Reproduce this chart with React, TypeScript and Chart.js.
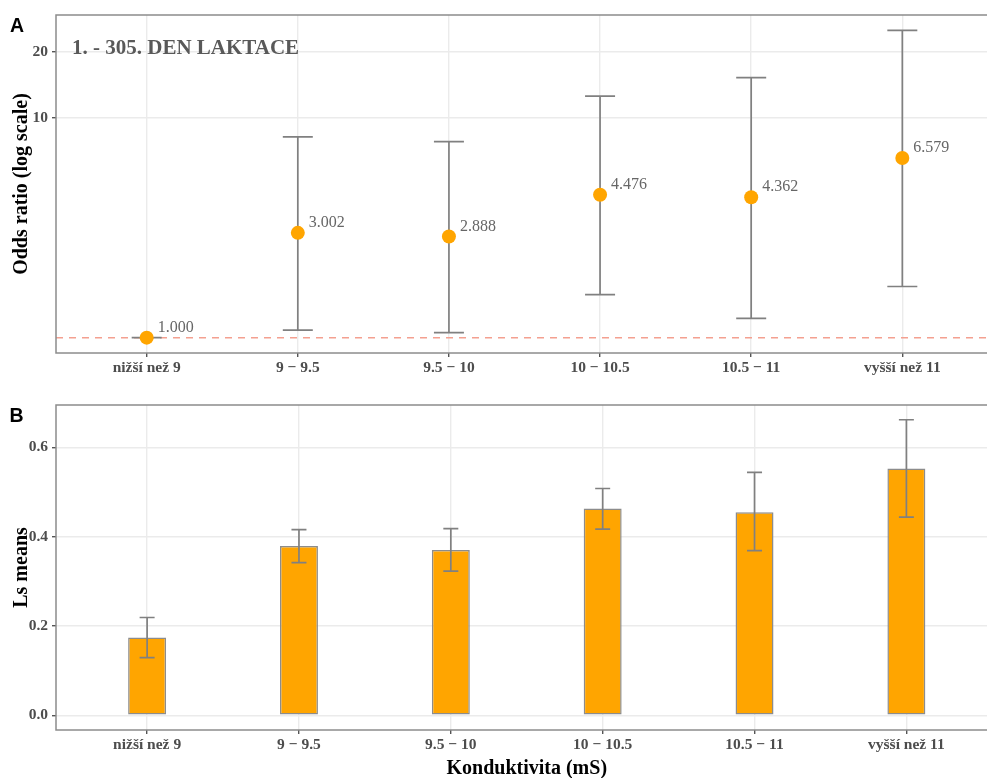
import React, { useEffect, useRef } from 'react';
import { Chart, registerables } from 'chart.js';

Chart.register(...registerables);

// ---------- data ----------
const CATEGORIES = ['nižší než 9', '9 − 9.5', '9.5 − 10', '10 − 10.5', '10.5 − 11', 'vyšší než 11'];

const ODDS_RATIO = [1.0, 3.002, 2.888, 4.476, 4.362, 6.579];
const ODDS_LOWER = [1.0, 1.083, 1.053, 1.57, 1.225, 1.71];
const ODDS_UPPER = [1.0, 8.22, 7.82, 12.6, 15.3, 25.1];
const ODDS_TICKS = [10, 20];
const ODDS_REFERENCE = 1;

const LS_MEANS = [0.174, 0.379, 0.37, 0.463, 0.455, 0.553];
const LS_LOWER = [0.129, 0.342, 0.323, 0.417, 0.369, 0.444];
const LS_UPPER = [0.219, 0.416, 0.418, 0.508, 0.544, 0.662];
const LS_TICKS = [0, 0.2, 0.4, 0.6];

const PANEL_A_NOTE = '1. - 305. DEN LAKTACE';
const Y_TITLE_A = 'Odds ratio (log scale)';
const Y_TITLE_B = 'Ls means';
const X_TITLE = 'Konduktivita (mS)';

// ---------- derived ranges (ggplot-like expansion) ----------
const X_MIN = -0.6;
const X_MAX = CATEGORIES.length - 1 + 0.6;

const logLo = Math.log10(Math.min(...ODDS_LOWER));
const logHi = Math.log10(Math.max(...ODDS_UPPER));
const logPad = (logHi - logLo) * 0.05;
const A_MIN = Math.pow(10, logLo - logPad);
const A_MAX = Math.pow(10, logHi + logPad);

const bLo = 0;
const bHi = Math.max(...LS_UPPER);
const bPad = (bHi - bLo) * 0.05;
const B_MIN = bLo - bPad;
const B_MAX = bHi + bPad;

// ---------- styles ----------
const SERIF = "'Liberation Serif', 'Times New Roman', serif";
const ORANGE = '#FFA500';
const GRID = '#ebebeb';
const TICK_TEXT = '#4d4d4d';
const ERR = '#808080';
const PANEL_BORDER = '#8c8c8c';

function xScale(height: number, withTitle: boolean) {
  return {
    type: 'linear',
    min: X_MIN,
    max: X_MAX,
    offset: false,
    afterBuildTicks: (s: any) => {
      s.ticks = CATEGORIES.map((_, i) => ({ value: i }));
    },
    afterFit: (s: any) => {
      s.height = height;
    },
    ticks: {
      autoSkip: false,
      maxRotation: 0,
      minRotation: 0,
      padding: 2,
      color: TICK_TEXT,
      font: { family: SERIF, size: 15.5, weight: 'bold' },
      callback: (v: any) => CATEGORIES[Math.round(Number(v))] ?? '',
    },
    grid: { offset: false, color: GRID, lineWidth: 1.4, tickColor: '#555', tickLength: 4, drawTicks: true },
    border: { display: false },
    title: withTitle
      ? {
          display: true,
          text: X_TITLE,
          color: '#000',
          font: { family: SERIF, size: 20, weight: 'bold' },
          padding: { top: 0, bottom: 4 },
        }
      : { display: false },
  };
}

function yCommon(title: string) {
  return {
    afterFit: (s: any) => {
      s.width = 56;
    },
    grid: { color: GRID, lineWidth: 1.4, tickColor: '#555', tickLength: 4, drawTicks: true },
    border: { display: false },
    title: {
      display: true,
      text: title,
      color: '#000',
      font: { family: SERIF, size: 20, weight: 'bold' },
      padding: { top: 10, bottom: 0 },
    },
  };
}

function drawErrorBars(chart: any, lower: number[], upper: number[], halfCap: number) {
  const { ctx } = chart;
  const xs = chart.scales.x;
  const ys = chart.scales.y;
  ctx.save();
  ctx.strokeStyle = ERR;
  ctx.lineWidth = 1.7;
  lower.forEach((lo, i) => {
    const px = xs.getPixelForValue(i);
    const yLo = ys.getPixelForValue(lo);
    const yHi = ys.getPixelForValue(upper[i]);
    ctx.beginPath();
    ctx.moveTo(px, yLo);
    ctx.lineTo(px, yHi);
    ctx.moveTo(px - halfCap, yLo);
    ctx.lineTo(px + halfCap, yLo);
    ctx.moveTo(px - halfCap, yHi);
    ctx.lineTo(px + halfCap, yHi);
    ctx.stroke();
  });
  ctx.restore();
}

function drawBorder(chart: any) {
  const { ctx, chartArea } = chart;
  ctx.save();
  ctx.strokeStyle = PANEL_BORDER;
  ctx.lineWidth = 1.5;
  ctx.strokeRect(chartArea.left, chartArea.top, chartArea.right - chartArea.left, chartArea.bottom - chartArea.top);
  ctx.restore();
}

export default function App() {
  const refA = useRef<HTMLCanvasElement>(null);
  const refB = useRef<HTMLCanvasElement>(null);

  useEffect(() => {
    const plugA = {
      id: 'panelA',
      beforeDatasetsDraw(chart: any) {
        const { ctx, chartArea } = chart;
        const ys = chart.scales.y;
        const yRef = ys.getPixelForValue(ODDS_REFERENCE);
        ctx.save();
        ctx.strokeStyle = '#f4a090';
        ctx.lineWidth = 1.5;
        ctx.setLineDash([7, 6]);
        ctx.beginPath();
        ctx.moveTo(chartArea.left, yRef);
        ctx.lineTo(chartArea.right, yRef);
        ctx.stroke();
        ctx.restore();
        drawErrorBars(chart, ODDS_LOWER, ODDS_UPPER, 15);
      },
      afterDatasetsDraw(chart: any) {
        const { ctx, chartArea } = chart;
        const xs = chart.scales.x;
        const ys = chart.scales.y;
        ctx.save();
        ctx.fillStyle = '#666';
        ctx.font = `16px ${SERIF}`;
        ctx.textAlign = 'left';
        ctx.textBaseline = 'middle';
        ODDS_RATIO.forEach((v, i) => {
          ctx.fillText(v.toFixed(3), xs.getPixelForValue(i) + 11, ys.getPixelForValue(v) - 10);
        });
        ctx.fillStyle = '#595959';
        ctx.font = `bold 21px ${SERIF}`;
        ctx.fillText(PANEL_A_NOTE, chartArea.left + 16, chartArea.top + 34);
        ctx.restore();
      },
      afterDraw(chart: any) {
        drawBorder(chart);
      },
    };

    const plugB = {
      id: 'panelB',
      afterDatasetsDraw(chart: any) {
        drawErrorBars(chart, LS_LOWER, LS_UPPER, 7.5);
      },
      afterDraw(chart: any) {
        drawBorder(chart);
      },
    };

    const chartA = new Chart(refA.current as HTMLCanvasElement, {
      type: 'scatter',
      data: {
        datasets: [
          {
            data: ODDS_RATIO.map((v, i) => ({ x: i, y: v })),
            pointRadius: 7,
            pointHoverRadius: 7,
            pointBackgroundColor: ORANGE,
            pointBorderWidth: 0,
          },
        ],
      },
      options: {
        responsive: false,
        animation: false,
        events: [],
        layout: { padding: { top: 15, right: 2.5, bottom: 0, left: 0 } },
        plugins: { legend: { display: false }, tooltip: { enabled: false } },
        scales: {
          x: xScale(32, false) as any,
          y: {
            type: 'logarithmic',
            min: A_MIN,
            max: A_MAX,
            afterBuildTicks: (s: any) => {
              s.ticks = ODDS_TICKS.map((v) => ({ value: v }));
            },
            ticks: {
              padding: 4,
              color: TICK_TEXT,
              font: { family: SERIF, size: 15.5, weight: 'bold' },
              callback: (v: any) => String(v),
            },
            ...yCommon(Y_TITLE_A),
          } as any,
        },
      },
      plugins: [plugA],
    } as any);

    const chartB = new Chart(refB.current as HTMLCanvasElement, {
      type: 'bar',
      data: {
        datasets: [
          {
            data: LS_MEANS.map((v, i) => ({ x: i, y: v })),
            backgroundColor: ORANGE,
            borderColor: '#8c8c8c',
            borderWidth: 1.5,
            borderSkipped: false,
            barPercentage: 0.25,
            categoryPercentage: 1,
          },
        ],
      },
      options: {
        responsive: false,
        animation: false,
        events: [],
        layout: { padding: { top: 20, right: 2.5, bottom: 0, left: 0 } },
        plugins: { legend: { display: false }, tooltip: { enabled: false } },
        scales: {
          x: xScale(55, true) as any,
          y: {
            type: 'linear',
            min: B_MIN,
            max: B_MAX,
            afterBuildTicks: (s: any) => {
              s.ticks = LS_TICKS.map((v) => ({ value: v }));
            },
            ticks: {
              padding: 4,
              color: TICK_TEXT,
              font: { family: SERIF, size: 15.5, weight: 'bold' },
              callback: (v: any) => Number(v).toFixed(1),
            },
            ...yCommon(Y_TITLE_B),
          } as any,
        },
      },
      plugins: [plugB],
    } as any);

    return () => {
      chartA.destroy();
      chartB.destroy();
    };
  }, []);

  const letterStyle: React.CSSProperties = {
    position: 'absolute',
    font: "bold 19.5px 'Liberation Sans', Arial, sans-serif",
    lineHeight: 1,
    color: '#000',
    margin: 0,
  };

  return (
    <div
      style={{
        position: 'absolute',
        left: 0,
        top: 0,
        width: 987,
        height: 778,
        overflow: 'hidden',
        background: '#fff',
      }}
    >
      <canvas ref={refA} width={1000} height={385} style={{ position: 'absolute', left: 0, top: 0 }} />
      <canvas ref={refB} width={1000} height={400} style={{ position: 'absolute', left: 0, top: 385 }} />
      <div style={{ ...letterStyle, left: 10, top: 15.5 }}>A</div>
      <div style={{ ...letterStyle, left: 9.6, top: 406 }}>B</div>
    </div>
  );
}
